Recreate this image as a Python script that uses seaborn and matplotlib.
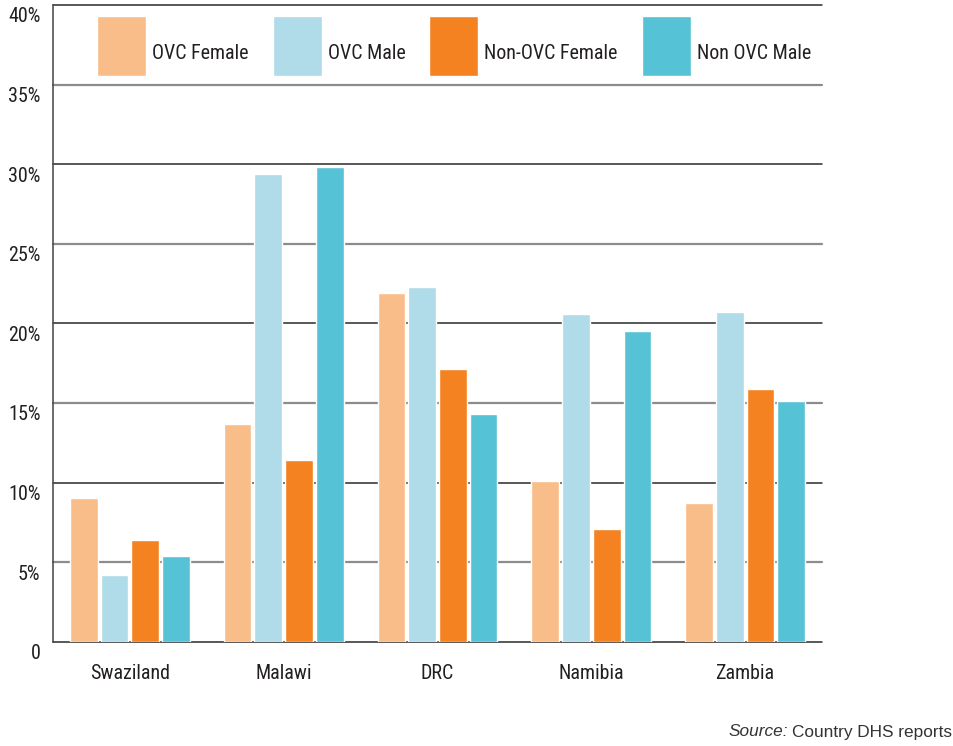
"""
plot.py — OVC vs non-OVC bar chart by country
Draws grouped bars (4 groups x 5 countries) and saves out.png.
"""

import pandas as pd
import matplotlib
matplotlib.use("Agg")
import matplotlib.pyplot as plt
import matplotlib.transforms as mtransforms
from matplotlib.ticker import FixedLocator, FuncFormatter
import seaborn as sns

# ── Data ─────────────────────────────────────────────────────────────────────
COUNTRIES = ["Swaziland", "Malawi", "DRC", "Namibia", "Zambia"]
GROUPS = ["OVC Female", "OVC Male", "Non-OVC Female", "Non OVC Male"]

OVC_FEMALE     = [9.0, 13.7, 21.9, 10.1, 8.7]
OVC_MALE       = [4.2, 29.4, 22.3, 20.6, 20.7]
NON_OVC_FEMALE = [6.4, 11.4, 17.1, 7.1, 15.9]
NON_OVC_MALE   = [5.4, 29.8, 14.3, 19.5, 15.1]

Y_TICKS = [0, 5, 10, 15, 20, 25, 30, 35, 40]

# ── Colours ──────────────────────────────────────────────────────────────────
PALETTE   = ["#F9BD89", "#AFDCE8", "#F58220", "#56C2D6"]
TEXT      = "#231F20"
GRID_DARK = "#2A2A2A"
GRID_GREY = "#8C8C8C"

sns.set_style("white")
plt.rcParams["font.family"] = ["Liberation Sans Narrow", "Roboto Condensed", "DejaVu Sans"]
plt.rcParams["text.color"] = TEXT

df = pd.DataFrame({
    "country": COUNTRIES * 4,
    "group": [g for g in GROUPS for _ in COUNTRIES],
    "value": OVC_FEMALE + OVC_MALE + NON_OVC_FEMALE + NON_OVC_MALE,
})

W, H = 954, 746
fig = plt.figure(figsize=(W / 100, H / 100), dpi=100)
ax = fig.add_axes([53 / W, 1 - 641.7 / H, (822 - 53) / W, (641.7 - 4.9) / H])

sns.barplot(
    data=df, x="country", y="value", hue="group",
    order=COUNTRIES, hue_order=GROUPS, palette=PALETTE,
    width=0.8, gap=0.1, saturation=1, errorbar=None, ax=ax,
)

ax.set_xlim(-0.5, len(COUNTRIES) - 0.5)
ax.set_ylim(0, 40)
ax.set_xlabel("")
ax.set_ylabel("")

# ── Grid: multiples of 10 dark, the 5s grey ──────────────────────────────────
ax.yaxis.set_major_locator(FixedLocator(Y_TICKS))
ax.yaxis.set_major_formatter(FuncFormatter(lambda v, _: "0" if v == 0 else f"{v:.0f}%"))
ax.set_axisbelow(True)
ax.yaxis.grid(True)
for val, gl in zip(Y_TICKS, ax.get_ygridlines()):
    if val % 10 == 0:
        gl.set(color=GRID_DARK, linewidth=1.1, clip_on=False)
    else:
        gl.set(color=GRID_GREY, linewidth=1.6, clip_on=False)

for side in ["top", "right", "bottom"]:
    ax.spines[side].set_visible(False)
ax.spines["left"].set(color="#444444", linewidth=1.1)

ax.tick_params(axis="y", length=0, pad=9, labelsize=14.4, labelcolor=TEXT)
ax.tick_params(axis="x", length=0, pad=16, labelsize=14.4, labelcolor=TEXT)

# y labels sit a little below their gridline in the original
shift = mtransforms.ScaledTranslation(0, -0.1, fig.dpi_scale_trans)
for lab in ax.get_yticklabels():
    lab.set_transform(lab.get_transform() + shift)

# ── Legend across the top ────────────────────────────────────────────────────
handles, labels = ax.get_legend_handles_labels()
leg = ax.legend(
    handles, labels, ncol=4, frameon=False, fontsize=14.4,
    loc="upper left", bbox_to_anchor=(97 / W, 1 - 16 / H),
    bbox_transform=fig.transFigure, borderaxespad=0, borderpad=0,
    handlelength=2.45, handleheight=4.24, handletextpad=0.3,
    columnspacing=1.2, labelcolor=TEXT,
)
# labels sit below the middle of the swatches in the original
for txt in leg.get_texts():
    txt.set_position((0, -8))

# ── Source note ──────────────────────────────────────────────────────────────
src_font = ["Liberation Sans", "DejaVu Sans"]
t = fig.text(952 / W, 1 - 732 / H, "Country DHS reports", ha="right", va="center",
             fontsize=12.4, family=src_font, color="#333333")
renderer = fig.canvas.get_renderer()
bb = t.get_window_extent(renderer=renderer)
fig.text((bb.x0 - 4) / W, 1 - 732 / H, "Source:", ha="right", va="center",
         fontsize=12.4, family=src_font, style="italic", color="#333333")

fig.savefig("out.png", dpi=100, facecolor="white")
plt.close(fig)
